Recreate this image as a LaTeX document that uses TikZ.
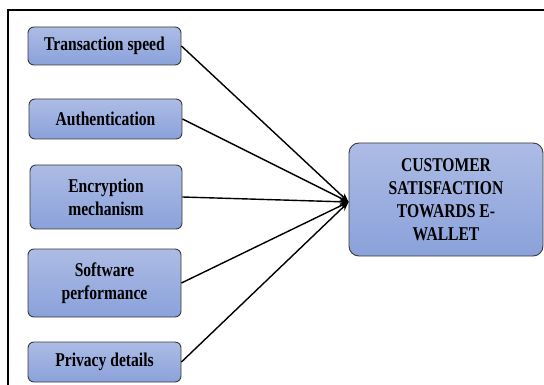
\documentclass[tikz,border=0pt]{standalone}
\usepackage{fontspec}
\setmainfont{Liberation Serif}[FakeStretch=0.8]
\usetikzlibrary{arrows.meta}
\definecolor{boxtop}{HTML}{ADBCE5}
\definecolor{boxbot}{HTML}{8AA1DA}
\definecolor{boxline}{HTML}{3A3A3A}
\tikzset{
  factor/.style={draw=boxline, line width=0.9pt, rounded corners=6pt,
    top color=boxtop, bottom color=boxbot, align=center,
    font=\fontsize{19.5}{23}\selectfont\bfseries, text=black,
    inner sep=0pt},
  link/.style={line width=1.4pt, -{Stealth[length=9pt,width=7pt]}}
}
\begin{document}
\begin{tikzpicture}[x=1pt,y=-1pt]
  \useasboundingbox (0,0) rectangle (544,385);
  \fill[white] (0,0) rectangle (544,385);
  % outer frame (only top and left edges fall inside the page)
  \draw[line width=2pt] (8,385) -- (8,10) -- (544,10);
  % independent factors
  \node[factor, minimum width=153pt, minimum height=38pt] (b1) at (104.5,46) {Transaction speed};
  \node[factor, minimum width=153pt, minimum height=40pt] (b2) at (105.5,119) {Authentication};
  \node[factor, minimum width=152pt, minimum height=64pt] (b3) at (106,197) {Encryption\\mechanism};
  \node[factor, minimum width=153pt, minimum height=68pt] (b4) at (104.5,283) {Software\\performance};
  \node[factor, minimum width=153pt, minimum height=40pt] (b5) at (104.5,362) {Privacy details};
  % dependent variable
  \node[factor, minimum width=194pt, minimum height=113pt, rounded corners=10pt] (t) at (446,199.5)
    {CUSTOMER\\SATISFACTION\\TOWARDS E-\\WALLET};
  \coordinate (tip) at ([yshift=-2.5pt]t.west);
  \foreach \b in {b1,b2,b3,b4,b5}
    \draw[link] (\b.east) -- (tip);
\end{tikzpicture}
\end{document}
